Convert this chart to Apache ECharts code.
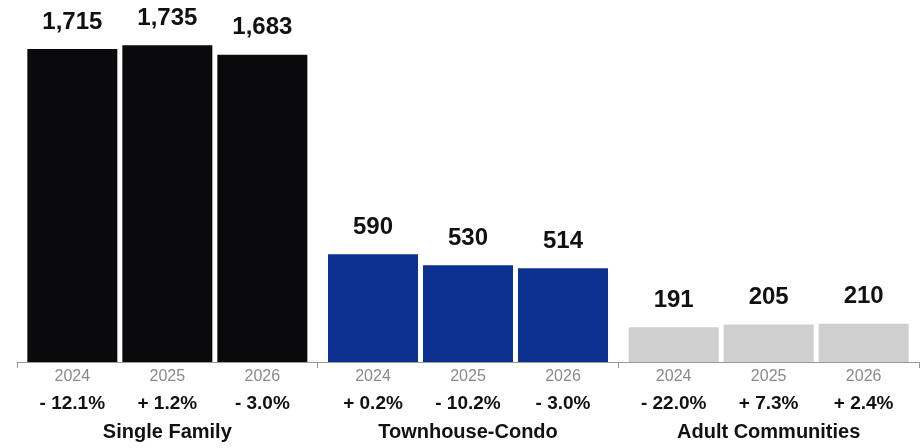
<!DOCTYPE html>
<html>
<head>
<meta charset="utf-8">
<script src="https://cdn.jsdelivr.net/npm/echarts@6/dist/echarts.min.js"></script>
<style>
  html, body { margin: 0; padding: 0; background: #fff; }
  #chart { width: 920px; height: 448px; }
</style>
</head>
<body>
<div id="chart"></div>
<script>
// data
const categories = ['Single Family', 'Townhouse-Condo', 'Adult Communities']
const years = ['2024', '2025', '2026']
const values2024 = [1715, 590, 191]
const values2025 = [1735, 530, 205]
const values2026 = [1683, 514, 210]
const change2024 = ['- 12.1%', '+ 0.2%', '- 22.0%']
const change2025 = ['+ 1.2%', '- 10.2%', '+ 7.3%']
const change2026 = ['- 3.0%', '- 3.0%', '+ 2.4%']

const groupColors = ['#0a090c', '#0d3190', '#cfcfcf']
const fontFamily = 'Liberation Sans, Arial, Helvetica, sans-serif'

const seriesValues = [values2024, values2025, values2026]
const seriesChanges = [change2024, change2025, change2026]

function colored(values) {
  return values.map((v, i) => ({ value: v, itemStyle: { color: groupColors[i] } }))
}

const barCommon = {
  type: 'bar',
  barWidth: 90,
  barGap: '5.56%',
  silent: true
}

const series = []
// the real bars with value labels
seriesValues.forEach((vals, k) => {
  series.push(Object.assign({}, barCommon, {
    name: years[k],
    xAxisIndex: 0,
    data: colored(vals),
    label: {
      show: true,
      position: 'top',
      distance: 15,
      color: '#111',
      fontFamily: fontFamily,
      fontWeight: 'bold',
      fontSize: 24,
      formatter: p => p.value.toLocaleString('en-US')
    }
  }))
})
// zero-height bars on a twin axis, only to carry year / change labels under each bar
seriesValues.forEach((vals, k) => {
  series.push(Object.assign({}, barCommon, {
    name: years[k] + ' label',
    xAxisIndex: 1,
    data: vals.map(() => 0),
    itemStyle: { color: 'transparent' },
    label: {
      show: true,
      position: 'bottom',
      distance: 6,
      fontFamily: fontFamily,
      formatter: p => '{y|' + years[k] + '}\n{p|' + seriesChanges[k][p.dataIndex] + '}',
      rich: {
        y: { fontSize: 16, color: '#8a8a8a', lineHeight: 18, fontFamily: fontFamily },
        p: { fontSize: 19, color: '#111', fontWeight: 'bold', lineHeight: 36, fontFamily: fontFamily }
      }
    }
  }))
})

const chart = echarts.init(document.getElementById('chart'))
chart.setOption({
  animation: false,
  grid: { left: 17, right: 1, top: 10, bottom: 86, containLabel: false },
  xAxis: [
    {
      type: 'category',
      data: categories,
      position: 'bottom',
      axisLine: { lineStyle: { color: '#999', width: 1 } },
      axisTick: { show: true, length: 6, lineStyle: { color: '#999' } },
      axisLabel: {
        margin: 60,
        color: '#111',
        fontFamily: fontFamily,
        fontWeight: 'bold',
        fontSize: 20
      }
    },
    {
      type: 'category',
      data: categories,
      position: 'bottom',
      show: false
    }
  ],
  yAxis: {
    type: 'value',
    min: 0,
    max: 1928,
    show: false,
    splitLine: { show: false }
  },
  series: series
})
</script>
</body>
</html>
